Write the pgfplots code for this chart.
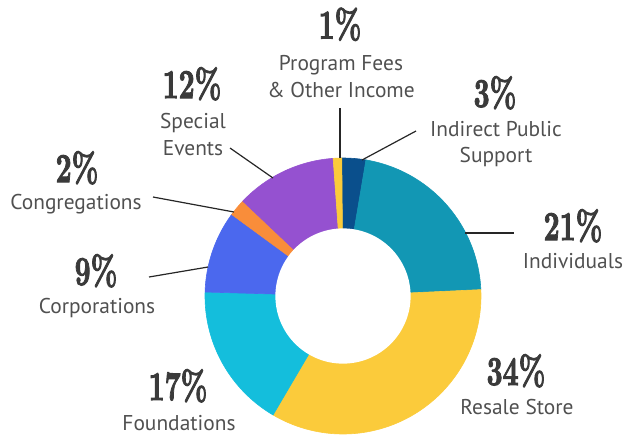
\documentclass[border=0pt]{standalone}
\usepackage{graphicx}
\usepackage{pgfplots}
\usepackage{pgfplotstable}
\pgfplotsset{compat=1.18}
\usepgfplotslibrary{polar}
\usepackage{fontspec}
\newfontfamily\labelfont{PT Sans}
\newfontfamily\pctfont[Extension=.otf, FakeBold=2.6]{lmroman10-bold}

\definecolor{cIndirect}{HTML}{0A4F8C}
\definecolor{cIndiv}{HTML}{1297B4}
\definecolor{cResale}{HTML}{FBCB3B}
\definecolor{cFound}{HTML}{14BEDC}
\definecolor{cCorp}{HTML}{4B68EE}
\definecolor{cCong}{HTML}{F98D3A}
\definecolor{cSpecial}{HTML}{9551D0}
\definecolor{cProgram}{HTML}{FBCB3B}
\definecolor{pctgray}{HTML}{3A3A3A}
\definecolor{labgray}{HTML}{505050}

% shares in percent, clockwise from (almost) 12 o'clock
\pgfplotstableread[col sep=comma]{
share,color
2.8,cIndirect
21.6,cIndiv
34.2,cResale
17.0,cFound
9.6,cCorp
2.0,cCong
11.8,cSpecial
1.0,cProgram
}\slices

\newcommand\pct[1]{\scalebox{0.68}[1]{\pctfont\fontsize{20.5}{20.5}\selectfont #1\%}}
\newcommand\lab[1]{{\labelfont\fontsize{10.7}{12}\selectfont #1}}

\begin{document}
\begin{tikzpicture}
\useasboundingbox (0,0) rectangle (312.5pt,-218pt);
\begin{polaraxis}[
  at={(171.5pt,-148pt)}, anchor=center,
  hide axis, scale only axis, width=138pt,
  xmin=0, xmax=360, ymin=0, ymax=1, clip=false]
\def\cum{-0.5}
\pgfplotsforeachungrouped \i in {0,...,7}{%
  \pgfplotstablegetelem{\i}{share}\of{\slices}\let\v\pgfplotsretval
  \pgfplotstablegetelem{\i}{color}\of{\slices}\let\c\pgfplotsretval
  \pgfmathsetmacro\tA{\cum}%
  \pgfmathsetmacro\tB{\cum+3.6*\v}%
  \xdef\cum{\tB}%
  \pgfmathsetmacro\pA{90-\tB}%
  \pgfmathsetmacro\pB{90-\tA}%
  \edef\doplot{\noexpand\addplot[fill=\c, draw=\c, line width=0.3pt, domain=\pA:\pB, samples=80] {1} -- (axis cs:0,0) -- cycle;}%
  \doplot
}
\addplot[fill=white, draw=none, domain=0:360, samples=180] {0.49};
\end{polaraxis}

\begin{scope}[x=0.5pt,y=-0.5pt]
% leader lines
\draw[line width=0.6pt, black!85] (340,108) -- (340,158);
\draw[line width=0.6pt, black!85] (416,131) -- (362,160);
\draw[line width=0.6pt, black!85] (230,148) -- (273,178);
\draw[line width=0.6pt, black!85] (153,197) -- (234,212);
\draw[line width=0.6pt, black!85] (149,277) -- (208,267);
\draw[line width=0.6pt, black!85] (465,233) -- (514,233);
% percentages
\begin{scope}[every node/.style={anchor=base, inner sep=0pt, text=pctgray}]
\node at (340,38.5) {\pct{1}};
\node at (495,107) {\pct{3}};
\node at (192,98) {\pct{12}};
\node at (77,182) {\pct{2}};
\node at (96,285) {\pct{9}};
\node at (573,240) {\pct{21}};
\node at (516,385) {\pct{34}};
\node at (178,400) {\pct{17}};
\end{scope}
% labels
\begin{scope}[every node/.style={anchor=base, inner sep=0pt, text=labgray}]
\node at (341,70) {\lab{Program Fees}};
\node at (341,97) {\lab{\& Other Income}};
\node at (496,136) {\lab{Indirect Public}};
\node at (496,162) {\lab{Support}};
\node at (193,128) {\lab{Special}};
\node at (193,155) {\lab{Events}};
\node at (76,209) {\lab{Congregations}};
\node at (97,313) {\lab{Corporations}};
\node at (573,268) {\lab{Individuals}};
\node at (517,414) {\lab{Resale Store}};
\node at (179,430) {\lab{Foundations}};
\end{scope}
\end{scope}
\end{tikzpicture}
\end{document}
